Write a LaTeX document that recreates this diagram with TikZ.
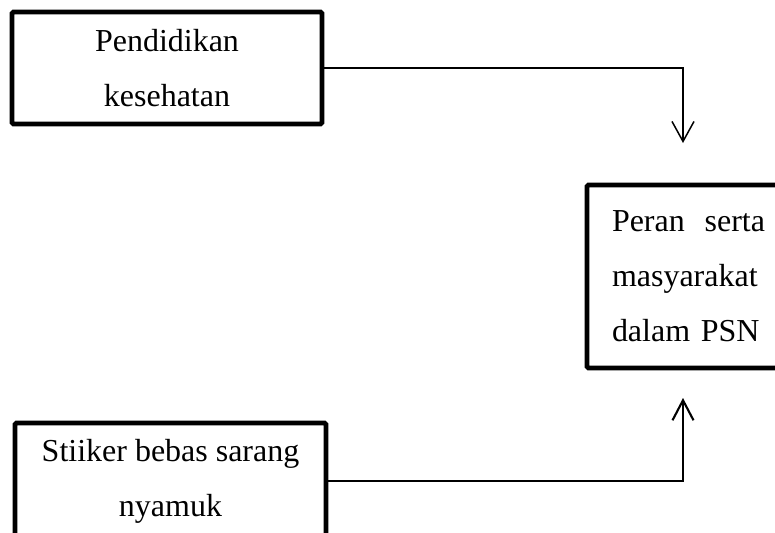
\documentclass[tikz,border=0pt]{standalone}
\usepackage{fontspec}
\setmainfont{Liberation Serif}
\usetikzlibrary{arrows.meta}
\tikzset{
  box/.style={draw,line width=2.6pt,rounded corners=0.8pt,inner sep=0pt,
    font=\fontsize{18.2pt}{31.3pt}\selectfont},
  conn/.style={line width=0.85pt,-{Straight Barb[length=4mm,width=4.4mm]}},
  connb/.style={line width=1.2pt,-{Straight Barb[length=4mm,width=4.2mm]}}
}

\begin{document}
\begin{tikzpicture}
\clip (0,0) rectangle (15.5,10.64);
\node[box,minimum width=6.2cm,minimum height=2.24cm,align=center] (pend) at (3.34,9.28) {Pendidikan\\kesehatan};
\node[box,minimum width=6.22cm,minimum height=2.32cm,align=center] (stik) at (3.41,1.02) {Stiiker bebas sarang\\nyamuk};
\node[box,minimum width=4.06cm,minimum height=3.66cm,text width=3.06cm,align=left] (peran) at (13.77,5.11) {Peran\hfill serta\\masyarakat\\dalam PSN\hspace*{\fill}};
\coordinate (topend) at (13.66,7.78);
\coordinate (botend) at (13.66,2.68);
\draw[conn] (pend.east) -| (topend);
\draw[connb] (stik.east) -| (botend);
\end{tikzpicture}
\end{document}
